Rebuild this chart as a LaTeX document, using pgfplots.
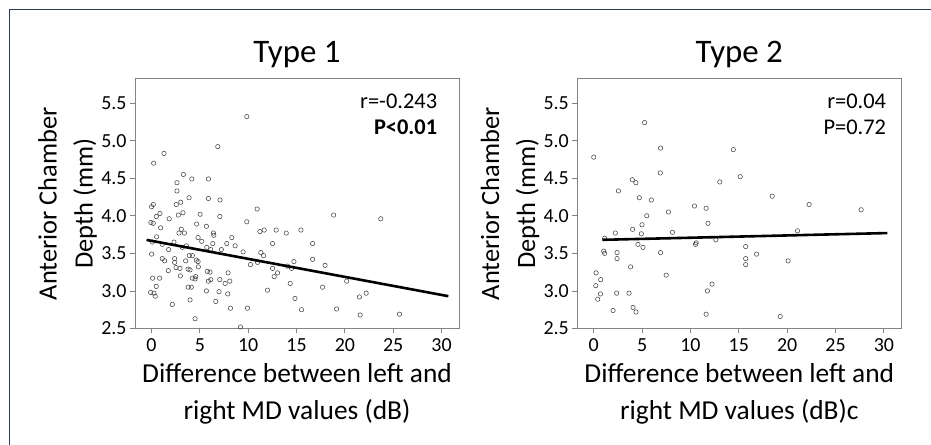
\documentclass[border=0pt]{standalone}
\usepackage{fontspec}
\setmainfont{Carlito}
\usepackage{pgfplots}
\pgfplotsset{compat=1.18}
\definecolor{framecol}{RGB}{45,58,82}
\definecolor{boxgray}{RGB}{130,130,130}
\definecolor{markgray}{RGB}{70,70,70}

\pgfplotsset{
  panel/.style={
    scale only axis, width=324bp, height=249.5bp,
    xmin=-1.7, xmax=31.8, ymin=2.5, ymax=5.82,
    xtick={0,5,10,15,20,25,30},
    ytick={2.5,3.0,3.5,4.0,4.5,5.0,5.5},
    yticklabel style={/pgf/number format/.cd, fixed, fixed zerofill, precision=1},
    xticklabel style={yshift=-2bp},
    /pgf/number format/assume math mode=true,
    tick pos=left, tick align=outside, major tick length=5bp,
    axis line style={boxgray, line width=1bp},
    every tick/.style={boxgray, line width=0.8bp},
    ticklabel style={font=\fontsize{20}{24}\selectfont, text=black},
    clip mode=individual,
  },
  pts/.style={only marks, mark=o, mark size=2.2bp, mark options={markgray, line width=0.55bp}},
  fit/.style={black, line width=2.6bp, no marks},
}
\newcommand{\labfont}{\fontsize{27.5}{31}\selectfont}
\newcommand{\ylabfont}{\fontsize{26.5}{30}\selectfont}
\newcommand{\titfont}{\fontsize{33}{38}\selectfont}
\newcommand{\statfont}{\fontsize{22.5}{26}\selectfont}

\begin{document}
\begin{tikzpicture}
\useasboundingbox (0,0) rectangle (931bp,445bp);
\draw[framecol, line width=1.3bp] (9.3bp,0) -- (9.3bp,435.7bp) -- (931bp,435.7bp);

% ---- Type 1 ----
\begin{axis}[panel, at={(135bp,116.5bp)}, anchor=south west]
\addplot[pts] coordinates {
(9.86,5.32) (6.86,4.92) (1.30,4.83) (0.23,4.70) (3.30,4.55) (4.17,4.49)
(5.89,4.49) (2.64,4.44) (2.64,4.33) (3.89,4.24) (5.89,4.23) (7.10,4.21)
(3.03,4.18) (2.57,4.15) (0.19,4.15) (0.02,4.12) (10.93,4.09)
(0.88,4.03) (0.50,3.99) (-0.05,3.91) (0.19,3.90) (0.95,3.84) (1.84,3.96)
(2.78,4.01) (3.26,4.04) (5.03,4.02) (4.68,3.89) (5.68,3.86) (7.07,3.99)
(9.86,3.92) (3.09,3.82) (2.85,3.77) (3.40,3.77) (0.54,3.72) (0.09,3.65)
(2.33,3.65) (1.12,3.62) (3.61,3.60) (3.19,3.58) (1.78,3.55) (4.82,3.71)
(5.20,3.66) (6.41,3.77) (6.45,3.74) (5.72,3.58) (6.13,3.55) (6.34,3.63)
(7.23,3.55) (7.79,3.63) (8.31,3.71) (8.65,3.60) (9.48,3.52) (11.21,3.79)
(11.66,3.81) (11.31,3.51) (11.59,3.47) (12.90,3.81) (13.94,3.77) (12.52,3.63)
(15.46,3.81) (10.24,3.35) (10.97,3.38) (12.52,3.30) (13.04,3.24) (12.69,3.19)
(14.07,3.33) (14.73,3.39) (14.49,3.30) (14.35,3.10) (14.84,2.90) (15.52,2.75)
(12.00,3.01) (9.93,2.77) (9.20,2.52) (8.17,2.77) (7.89,2.96) (8.10,3.13)
(7.62,3.10) (7.93,3.24) (6.65,2.86) (6.99,2.99) (5.68,3.00) (6.13,3.15)
(5.89,3.13) (6.06,3.25) (5.78,3.26) (4.58,3.19) (4.23,3.17) (4.51,3.16)
(4.12,3.05) (3.81,3.05) (3.99,2.88) (4.51,2.63) (2.16,2.82) (3.78,3.29)
(2.95,3.30) (2.54,3.31) (2.40,3.38) (2.40,3.43) (1.36,3.40) (1.12,3.43)
(1.74,3.27) (2.99,3.20) (3.92,3.47) (4.23,3.47) (3.54,3.40) (4.64,3.41)
(4.82,3.39) (4.85,3.32) (3.99,3.28) (0.85,3.17) (0.12,3.17) (0.50,3.06)
(-0.08,2.98) (0.26,2.97) (0.39,2.93) (0.02,3.49) (7.07,3.15)
(18.84,4.01) (23.71,3.96) (16.66,3.63) (16.66,3.42) (17.95,3.34) (20.19,3.13)
(17.70,3.05) (21.50,2.92) (22.20,2.97) (19.15,2.76) (21.58,2.68) (25.65,2.69)
};
\addplot[fit] coordinates {(-0.5,3.679) (30.7,2.930)};
\node[anchor=base] at ([yshift=16bp]axis description cs:0.5,1) {\titfont Type 1};
\node[anchor=base east] at ([xshift=-18.3bp,yshift=-29.8bp]axis description cs:1,1) {\statfont r=-0.243};
\node[anchor=base east] at ([xshift=-18.3bp,yshift=-55.5bp]axis description cs:1,1) {\statfont\bfseries P<0.01};
\node[anchor=base] at ([yshift=-54bp]axis description cs:0.5,0) {\labfont Difference between left and};
\node[anchor=base] at ([yshift=-91bp]axis description cs:0.5,0) {\labfont right MD values (dB)};
\node[anchor=base, rotate=90] at ([xshift=-78.3bp]axis description cs:0,0.5) {\ylabfont Anterior Chamber};
\node[anchor=base, rotate=90] at ([xshift=-42.3bp]axis description cs:0,0.5) {\ylabfont Depth (mm)};
\end{axis}

% ---- Type 2 ----
\begin{axis}[panel, at={(577.3bp,116.5bp)}, anchor=south west]
\addplot[pts] coordinates {
(5.26,5.24) (0.00,4.78) (6.91,4.90) (14.43,4.88) (6.88,4.57) (3.99,4.48)
(4.36,4.44) (13.03,4.45) (15.15,4.52) (2.55,4.33) (4.71,4.24) (5.95,4.21)
(10.41,4.13) (11.62,4.10) (5.48,4.00) (7.72,4.05) (4.99,3.88) (11.82,3.90)
(4.02,3.82) (2.23,3.77) (4.92,3.76) (8.14,3.78) (1.13,3.70) (12.62,3.68)
(4.57,3.62) (5.09,3.58) (10.59,3.64) (10.52,3.62) (1.03,3.53) (1.13,3.50)
(2.41,3.51) (2.41,3.43) (6.91,3.51) (3.81,3.32) (0.24,3.24) (0.72,3.15)
(7.49,3.21) (0.21,3.07) (0.41,2.89) (0.69,2.96) (2.37,2.97) (3.65,2.97)
(12.23,3.09) (11.75,3.00) (2.00,2.74) (4.06,2.78) (4.37,2.72) (11.62,2.69)
(18.45,4.26) (22.27,4.15) (27.65,4.08) (21.07,3.80) (15.71,3.59) (16.84,3.49)
(15.71,3.43) (15.71,3.35) (20.10,3.40) (19.28,2.66)
};
\addplot[fit] coordinates {(0.9,3.68) (30.35,3.77)};
\node[anchor=base] at ([yshift=16bp]axis description cs:0.5,1) {\titfont Type 2};
\node[anchor=base east] at ([xshift=-11.7bp,yshift=-29.8bp]axis description cs:1,1) {\statfont r=0.04};
\node[anchor=base east] at ([xshift=-11.7bp,yshift=-55.5bp]axis description cs:1,1) {\statfont P=0.72};
\node[anchor=base] at ([yshift=-54bp]axis description cs:0.5,0) {\labfont Difference between left and};
\node[anchor=base] at ([yshift=-91bp]axis description cs:0.5,0) {\labfont right MD values (dB)c};
\node[anchor=base, rotate=90] at ([xshift=-78.3bp]axis description cs:0,0.5) {\ylabfont Anterior Chamber};
\node[anchor=base, rotate=90] at ([xshift=-42.3bp]axis description cs:0,0.5) {\ylabfont Depth (mm)};
\end{axis}
\end{tikzpicture}
\end{document}
